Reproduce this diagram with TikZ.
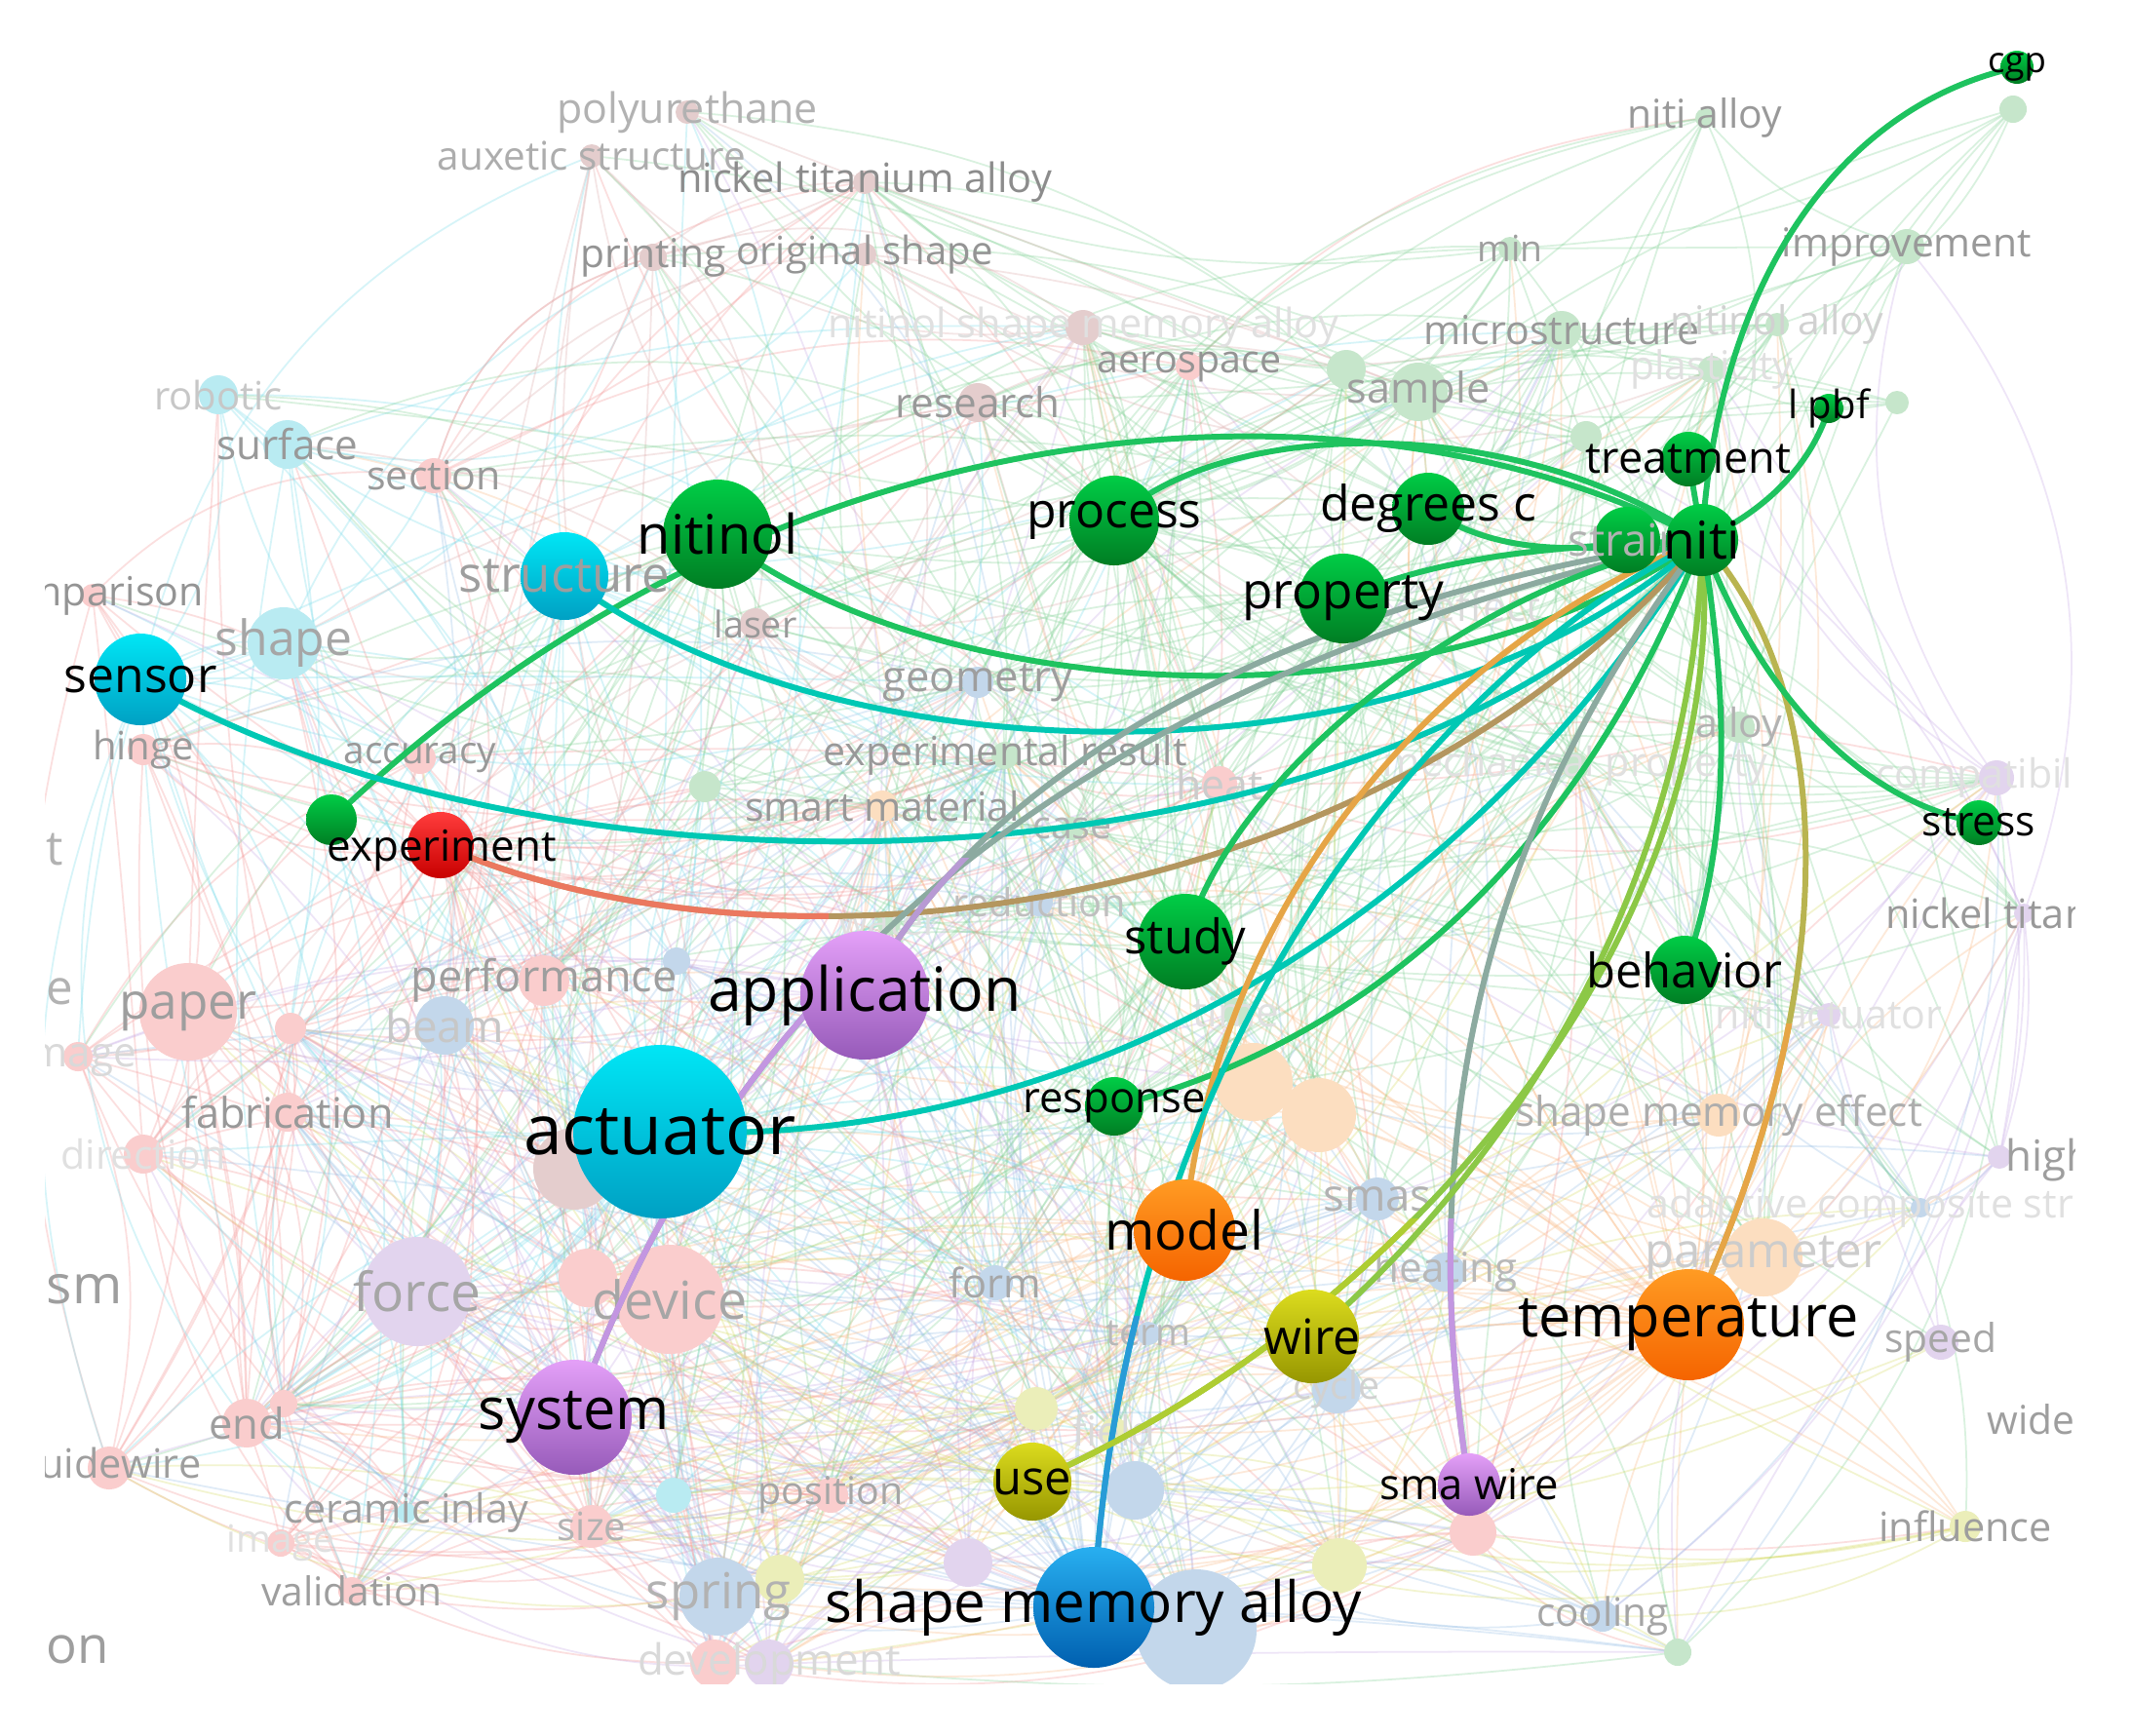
\documentclass[tikz,border=0pt]{standalone}
\usepackage{fontspec}
\setmainfont{Open Sans}

% node colours (top / bottom of the shading)
\definecolor{cgreenA}{RGB}{0,205,70}
\definecolor{cgreenB}{RGB}{0,125,35}
\definecolor{ccyanA}{RGB}{0,230,245}
\definecolor{ccyanB}{RGB}{0,160,195}
\definecolor{cpurpleA}{RGB}{228,160,248}
\definecolor{cpurpleB}{RGB}{150,90,185}
\definecolor{corangeA}{RGB}{255,155,35}
\definecolor{corangeB}{RGB}{245,100,0}
\definecolor{coliveA}{RGB}{220,220,30}
\definecolor{coliveB}{RGB}{150,150,0}
\definecolor{cblueA}{RGB}{40,175,240}
\definecolor{cblueB}{RGB}{0,95,175}
\definecolor{credA}{RGB}{255,60,60}
\definecolor{credB}{RGB}{200,0,0}
% faded nodes
\definecolor{fpink}{RGB}{250,205,205}
\definecolor{fcyan}{RGB}{185,235,242}
\definecolor{fgreen}{RGB}{198,230,203}
\definecolor{forange}{RGB}{252,222,192}
\definecolor{fblue}{RGB}{195,215,235}
\definecolor{fpurple}{RGB}{226,212,238}
\definecolor{fbrown}{RGB}{228,205,205}
\definecolor{fyellow}{RGB}{235,238,185}
% faded links
\definecolor{mpink}{RGB}{245,150,150}
\definecolor{mcyan}{RGB}{120,220,235}
\definecolor{mgreen}{RGB}{130,210,150}
\definecolor{morange}{RGB}{250,185,130}
\definecolor{mblue}{RGB}{150,190,230}
\definecolor{mpurple}{RGB}{200,170,230}
\definecolor{mbrown}{RGB}{220,170,170}
\definecolor{myellow}{RGB}{215,220,100}
% links of niti
\definecolor{egreen}{RGB}{30,195,95}
\definecolor{eteal}{RGB}{0,200,180}
\definecolor{esalmon}{RGB}{235,120,95}
\definecolor{ebrown}{RGB}{180,150,95}
\definecolor{epurple}{RGB}{195,150,225}
\definecolor{egray}{RGB}{140,170,160}
\definecolor{eorange}{RGB}{230,165,70}
\definecolor{eolive}{RGB}{185,180,80}
\definecolor{eblue}{RGB}{40,155,215}
\definecolor{eyellow}{RGB}{175,205,50}
\definecolor{elime}{RGB}{140,200,70}

\pgfdeclarelayer{mesh}
\pgfdeclarelayer{faint}
\pgfdeclarelayer{links}
\pgfsetlayers{mesh,faint,links,main}

\tikzset{
  kw/.style={circle, inner sep=0pt, minimum size=#1},
  hot/.style={top color=#1A, bottom color=#1B},
  lab/.style={inner sep=0pt, text=black, font=\fontsize{#1}{#1}\selectfont},
  dimlab/.style={inner sep=0pt, text=black!40, font=\fontsize{#1}{#1}\selectfont},
  link/.style={line width=1.7pt, line cap=round},
  mesh/.style={line width=.5pt, draw opacity=.3}
}

% x / y / size / cluster / label / font size / grey
\def\faintlist{
 7.05/1.15/.24/brown/polyurethane/12.2/30,
 6.07/1.60/.24/brown/auxetic structure/11.5/32,
 8.87/1.87/.24/brown/nickel titanium alloy/11.8/45,
 6.70/2.64/.28/brown/printing/11.6/42,
 8.87/2.61/.24/brown/original shape/11.4/42,
 11.11/3.36/.36/brown/nitinol shape memory alloy/11.8/12,
 10.03/4.13/.40/brown/research/12.0/40,
 12.20/3.76/.28/pink/aerospace/11.2/42,
 13.81/3.79/.40/green//11/40,
 14.55/4.02/.60/green/sample/12.3/38,
 15.49/2.55/.24/green/min/10.6/38,
 16.02/3.39/.40/green/microstructure/11.7/40,
 17.49/1.21/.20/green/niti alloy/11.6/40,
 19.56/2.53/.36/green/improvement/11.6/40,
 20.65/1.12/.28/green//11/40,
 18.23/3.33/.24/green/nitinol alloy/11.6/18,
 17.56/3.79/.28/green/plasticity/11.6/12,
 16.27/4.48/.32/green//11/40,
 19.46/4.13/.24/green//11/40,
 2.24/4.05/.40/cyan/robotic/11.4/22,
 2.95/4.56/.50/cyan/surface/12.0/40,
 4.45/4.88/.36/pink/section/11.7/40,
 0.95/6.11/.24/pink/comparison/11.7/42,
 2.91/6.60/.74/cyan/shape/14.2/35,
 1.47/7.69/.32/pink/hinge/11.4/40,
 7.75/6.40/.32/brown/laser/10.7/40,
 4.31/7.78/.32/pink/accuracy/11.0/40,
 10.03/7.00/.32/blue/geometry/12.4/38,
 10.31/7.75/.28/green/experimental result/11.7/40,
 7.23/8.07/.32/green//11/40,
 9.05/8.27/.32/orange/smart material/11.7/40,
 12.51/8.04/.36/pink/heat/12.2/20,
 17.84/7.46/.32/green/alloy/11.7/30,
 16.16/7.86/.28/green/mechanical property/11.7/12,
 20.48/7.98/.36/purple/compatibility/11.7/12,
 11.00/8.50/.24/green/case/11.2/30,
 10.66/9.26/.28/blue/reduction/11.3/25,
 9.12/9.47/.24/green/water/11.0/12,
 20.76/9.37/.20/purple/nickel titanium/11.8/40,
 18.76/10.41/.24/purple/niti actuator/11.7/12,
 5.58/10.06/.52/pink/performance/12.8/38,
 4.56/10.52/.60/blue/beam/13.0/22,
 6.94/9.86/.28/blue//11/40,
 1.93/10.38/1.00/pink/paper/14.6/38,
 2.98/10.55/.32/pink//11/40,
 0.80/10.84/.30/pink/image/12/15,
 2.95/11.41/.40/pink/fabrication/12.3/40,
 1.47/11.84/.40/pink/direction/11.7/12,
 5.89/11.99/.84/brown//11/40,
 12.68/10.38/.28/green/time/12/12,
 12.86/11.10/.80/orange//11/40,
 13.53/11.44/.76/orange//11/40,
 17.63/11.44/.44/orange/shape memory effect/12/32,
 14.13/12.30/.44/blue/smas/13/30,
 20.51/11.87/.24/purple//11/40,
 19.70/12.39/.20/blue/adaptive composite structure/11.7/12,
 18.09/12.90/.80/orange/parameter/14/20,
 14.83/13.05/.40/blue/heating/12/28,
 10.21/13.16/.36/blue/form/11.8/35,
 4.28/13.25/1.12/purple/force/15.7/35,
 6.03/13.11/.60/pink//11/40,
 6.87/13.33/1.12/pink/device/15.3/35,
 11.78/13.68/.24/blue/term/11/28,
 13.71/14.25/.50/blue/cycle/11.2/18,
 19.91/13.77/.36/purple/speed/11.6/35,
 2.53/14.60/.50/pink/end/12.4/38,
 2.91/14.40/.28/pink//11/40,
 1.12/15.06/.44/pink/guidewire/11.8/38,
 10.63/14.45/.44/yellow//11/40,
 11.43/14.68/.28/yellow/field/12/15,
 4.17/15.52/.20/cyan/ceramic inlay/11.7/38,
 2.88/15.83/.28/pink/image/11/12,
 3.61/16.32/.28/pink/validation/11.6/38,
 6.07/15.66/.44/pink/size/11.4/30,
 6.91/15.34/.36/cyan//11/40,
 8.52/15.34/.36/pink/position/11.2/35,
 7.37/16.38/.80/blue/spring/14.5/30,
 8.00/16.20/.50/yellow//11/40,
 7.33/17.07/.50/pink//11/40,
 7.89/17.07/.50/purple/development/12.5/15,
 9.93/16.03/.50/purple//11/40,
 11.64/15.29/.60/blue//11/40,
 12.27/16.72/1.24/blue//11/40,
 13.74/16.06/.56/yellow//11/40,
 15.11/15.72/.48/pink//11/40,
 20.16/15.66/.32/yellow/influence/11.8/38,
 16.44/16.58/.32/blue/cooling/11.5/35,
 17.21/16.95/.28/green//11/40}

\begin{document}
\begin{tikzpicture}[x=1cm, y=-1cm]
\useasboundingbox (0,0) rectangle (21.86,17.80);

% highlighted keywords
\node[kw=.68cm, hot=cgreen] (strain) at (16.69,5.54) {};
\node[lab=13, text=black!30] (strain-t) at (strain) {strain};
\node[kw=.56cm, hot=cgreen] (treatment) at (17.32,4.71) {};
\node[kw=.74cm, hot=cgreen] (niti) at (17.46,5.54) {};
\node[kw=.30cm, hot=cgreen] (lpbf) at (18.76,4.19) {};
\node[kw=.34cm, hot=cgreen] (cgp) at (20.69,0.69) {};
\node[kw=.46cm, hot=cgreen] (stress) at (20.30,8.44) {};
\node[kw=.74cm, hot=cgreen] (degreesc) at (14.65,5.22) {};
\node[kw=.92cm, hot=cgreen] (property) at (13.78,6.14) {};
\node[kw=.92cm, hot=cgreen] (process) at (11.43,5.34) {};
\node[kw=1.12cm, hot=cgreen] (nitinol) at (7.36,5.48) {};
\node[kw=.90cm, hot=ccyan] (structure) at (5.79,5.91) {};
\node[kw=.94cm, hot=ccyan] (sensor) at (1.44,6.97) {};
\node[kw=.52cm, hot=cgreen] (small) at (3.40,8.41) {};
\node[kw=.68cm, hot=cred] (experiment) at (4.52,8.67) {};
\node[kw=1.32cm, hot=cpurple] (application) at (8.87,10.21) {};
\node[kw=1.78cm, hot=ccyan] (actuator) at (6.77,11.61) {};
\node[kw=1.18cm, hot=cpurple] (system) at (5.89,14.54) {};
\node[kw=.98cm, hot=cgreen] (study) at (12.16,9.66) {};
\node[kw=.60cm, hot=cgreen] (response) at (11.43,11.35) {};
\node[kw=1.04cm, hot=corange] (model) at (12.15,12.62) {};
\node[kw=.96cm, hot=colive] (wire) at (13.46,13.71) {};
\node[kw=.80cm, hot=colive] (use) at (10.59,15.20) {};
\node[kw=1.24cm, hot=cblue] (sma) at (11.22,16.49) {};
\node[kw=1.14cm, hot=corange] (temperature) at (17.32,13.59) {};
\node[kw=.64cm, hot=cpurple] (smawire) at (15.07,15.23) {};
\node[kw=.70cm, hot=cgreen] (behavior) at (17.28,9.95) {};

\node[lab=15.2] (niti-t) at (niti) {niti};
\node[lab=12.8] (treatment-t) at (treatment) {treatment};
\node[lab=11.4] (lpbf-t) at (lpbf) {l pbf};
\node[lab=10.4] (cgp-t) at (cgp) {cgp};
\node[lab=12.1] (stress-t) at (stress) {stress};
\node[lab=14.2] (degreesc-t) at (degreesc) {degrees c};
\node[lab=14.6] (property-t) at (property) {property};
\node[lab=14.2] (process-t) at (process) {process};
\node[lab=15.9] (nitinol-t) at (nitinol) {nitinol};
\node[lab=14.5, text=black!38] (structure-t) at (structure) {structure};
\node[lab=14.2] (sensor-t) at (sensor) {sensor};
\node[lab=12.5] (experiment-t) at (4.53,8.73) {experiment};
\node[lab=17.8] (application-t) at (application) {application};
\node[lab=20.3] (actuator-t) at (actuator) {actuator};
\node[lab=16.9] (system-t) at (system) {system};
\node[lab=13.9] (study-t) at (study) {study};
\node[lab=12.4] (response-t) at (response) {response};
\node[lab=15.7] (model-t) at (model) {model};
\node[lab=14.2] (wire-t) at (wire) {wire};
\node[lab=13.9] (use-t) at (use) {use};
\node[lab=16.6] (sma-t) at (sma) {shape memory alloy};
\node[lab=16.9] (temperature-t) at (temperature) {temperature};
\node[lab=12.4] (smawire-t) at (smawire) {sma wire};
\node[lab=13.9] (behavior-t) at (behavior) {behavior};

% faded keywords
\begin{pgfonlayer}{faint}
\begin{scope}
  \clip (0.46,0.55) rectangle (21.28,17.27);
  \foreach[count=\i] \x/\y/\dm/\cl/\lbl/\fs/\gr in \faintlist {
    \edef\fc{f\cl}
    \expandafter\xdef\csname fc\i\endcsname{\cl}
    \xdef\nf{\i}
    \node[circle, inner sep=0pt, minimum size=\dm cm, fill=\fc] (f\i) at (\x,\y) {};
  }
  \foreach[count=\i] \x/\y/\dm/\cl/\lbl/\fs/\gr in \faintlist
    \node[dimlab=\fs, text=black!\gr] (f\i-t) at (f\i) {\lbl};
  \node[dimlab=15.7, text=black!38, anchor=west] (sm-t) at (0.47,13.23) {sm};
  \node[dimlab=15, text=black!38, anchor=west] (on-t) at (0.47,16.92) {on};
  \node[dimlab=14, text=black!30, anchor=west] (e-t) at (0.47,10.17) {e};
  \node[dimlab=14, text=black!30, anchor=west] (t-t) at (0.47,8.71) {t};
  \node[dimlab=12.5, text=black!38, anchor=west] (high-t) at (20.57,11.90) {high};
  \node[dimlab=11.6, text=black!38, anchor=west] (wide-t) at (20.38,14.56) {wide};
  \node[dimlab=12, text=black!14] (effect-t) at (15.25,6.22) {effect};
\end{scope}
\end{pgfonlayer}

% faded links
\begin{pgfonlayer}{mesh}
\fill[white] (0,0) rectangle (21.86,17.80);
\begin{scope}
  \clip (0.46,0.55) rectangle (21.28,17.27);
  \pgfmathsetseed{5}
  \foreach \k in {1,...,1100}{
    \pgfmathtruncatemacro{\ia}{random(1,\nf)}
    \pgfmathtruncatemacro{\ib}{random(1,\nf)}
    \pgfpointanchor{f\ia}{center}\pgfgetlastxy{\ax}{\ay}
    \pgfpointanchor{f\ib}{center}\pgfgetlastxy{\bx}{\by}
    \pgfmathtruncatemacro{\ok}{veclen(\ax-\bx,\ay-\by)<280}
    \ifnum\ok=1
      \pgfmathtruncatemacro{\bd}{random(-30,30)}
      \edef\mc{m\csname fc\ia\endcsname}
      \draw[mesh, draw=\mc] (f\ia.center) to[bend left=\bd] (f\ib.center);
    \fi
  }
  \foreach \h/\cl/\n in {actuator/cyan/90, application/purple/40, system/purple/40,
      nitinol/green/60, process/green/60, property/green/50, degreesc/green/35,
      study/green/45, model/orange/40, temperature/orange/90, sma/blue/90,
      niti/green/60, sensor/cyan/50, structure/cyan/50, wire/yellow/25,
      use/yellow/25, response/green/25, experiment/pink/50, behavior/green/25}{
    \foreach \k in {1,...,\n}{
      \pgfmathtruncatemacro{\ib}{random(1,\nf)}
      \pgfpointanchor{\h}{center}\pgfgetlastxy{\ax}{\ay}
      \pgfpointanchor{f\ib}{center}\pgfgetlastxy{\bx}{\by}
      \pgfmathtruncatemacro{\ok}{veclen(\ax-\bx,\ay-\by)<300}
      \ifnum\ok=1
        \pgfmathtruncatemacro{\bd}{random(-30,30)}
        \edef\mc{m\cl}
        \draw[mesh, draw=\mc] (\h.center) to[bend left=\bd] (f\ib.center);
      \fi
    }
  }
\end{scope}
\end{pgfonlayer}

% links of niti
\begin{pgfonlayer}{links}
\draw[link, egreen] (small.center) .. controls (8.00,4.00) and (14.00,3.70) .. (niti.center);
\draw[link, egreen] (process.center) .. controls (12.50,4.30) and (15.50,4.20) .. (niti.center);
\draw[link, egreen] (nitinol.center) .. controls (9.50,7.20) and (14.50,7.60) .. (niti.center);
\draw[link, eteal] (structure.center) .. controls (8.50,8.00) and (14.50,8.20) .. (niti.center);
\draw[link, eteal] (sensor.center) .. controls (6.00,9.60) and (14.50,9.10) .. (niti.center);
\draw[link, ebrown] (experiment.center) .. controls (8.00,10.20) and (14.20,9.40) .. (niti.center);
\draw[link, egray] (application.center) .. controls (10.00,8.00) and (13.00,6.20) .. (niti.center);
\draw[link, egray] (system.center) .. controls (7.50,10.00) and (11.00,7.00) .. (niti.center);
\draw[link, eteal] (actuator.center) .. controls (11.00,11.80) and (15.00,9.50) .. (niti.center);
\draw[link, egreen] (response.center) .. controls (14.00,10.70) and (16.20,8.80) .. (niti.center);
\draw[link, egreen] (study.center) .. controls (12.60,8.00) and (15.00,6.00) .. (niti.center);
\draw[link, eorange] (model.center) .. controls (12.50,9.00) and (15.00,6.50) .. (niti.center);
\draw[link, eteal] (sma.center) .. controls (11.50,11.00) and (14.50,7.00) .. (niti.center);
\draw[link, egray] (smawire.center) .. controls (14.30,10.50) and (16.00,7.50) .. (niti.center);
\draw[link, elime] (wire.center) .. controls (16.00,11.50) and (17.40,8.50) .. (niti.center);
\draw[link, elime] (use.center) .. controls (14.50,13.50) and (17.80,9.50) .. (niti.center);
\draw[link, eolive] (temperature.center) .. controls (19.00,10.00) and (18.80,7.00) .. (niti.center);
\draw[link, egreen] (behavior.center) .. controls (17.80,8.50) and (17.70,7.00) .. (niti.center);
\draw[link, egreen] (niti.center) .. controls (18.00,7.00) and (19.00,8.20) .. (stress.center);
\draw[link, egreen] (niti.center) .. controls (17.60,3.00) and (18.80,1.10) .. (cgp.center);
\draw[link, egreen] (niti.center) .. controls (18.20,5.20) and (18.60,4.70) .. (lpbf.center);
\draw[link, egreen] (niti.center) -- (treatment.center);
\draw[link, egreen] (degreesc.center) .. controls (15.50,5.80) and (16.50,5.60) .. (niti.center);
\draw[link, egreen] (property.center) .. controls (15.00,5.60) and (16.50,5.60) .. (niti.center);
% colour of the other end
\begin{scope}
  \clip (0,0) rectangle (8.5,17.8);
  \draw[link, esalmon] (experiment.center) .. controls (8.00,10.20) and (14.20,9.40) .. (niti.center);
\end{scope}
\begin{scope}
  \clip (0,10.4) rectangle (21.86,17.8);
  \draw[link, epurple] (system.center) .. controls (7.50,10.00) and (11.00,7.00) .. (niti.center);
\end{scope}
\begin{scope}
  \clip (0,8.8) rectangle (21.86,17.8);
  \draw[link, epurple!80!egray] (application.center) .. controls (10.00,8.00) and (13.00,6.20) .. (niti.center);
\end{scope}
\begin{scope}
  \clip (0,12.5) rectangle (21.86,17.8);
  \draw[link, epurple] (smawire.center) .. controls (14.30,10.50) and (16.00,7.50) .. (niti.center);
\end{scope}
\begin{scope}
  \clip (0,10.5) rectangle (21.86,17.8);
  \draw[link, eorange] (temperature.center) .. controls (19.00,10.00) and (18.80,7.00) .. (niti.center);
\end{scope}
\begin{scope}
  \clip (0,13.5) rectangle (21.86,17.8);
  \draw[link, eblue] (sma.center) .. controls (11.50,11.00) and (14.50,7.00) .. (niti.center);
\end{scope}
\begin{scope}
  \clip (0,12.5) rectangle (21.86,17.8);
  \draw[link, eyellow] (use.center) .. controls (14.50,13.50) and (17.80,9.50) .. (niti.center);
\end{scope}
\end{pgfonlayer}
\end{tikzpicture}
\end{document}
